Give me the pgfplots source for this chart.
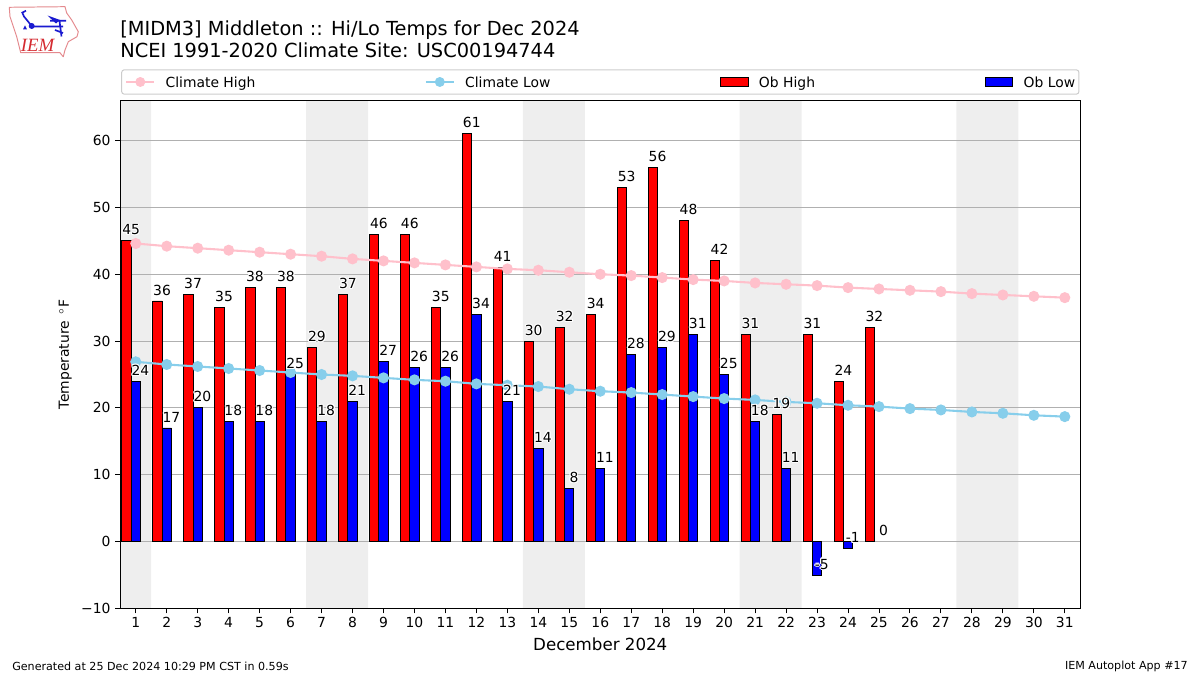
\documentclass[border=0pt]{standalone}
\usepackage{pgfplots}
\usepackage{pgfplotstable}
\usepackage{fontspec}
\setmainfont{DejaVu Sans}
\newfontfamily\logofont{Liberation Serif}
\pgfplotsset{compat=1.18}
\definecolor{climhi}{HTML}{FFC0CB}
\definecolor{climlo}{HTML}{87CEEB}
\definecolor{wknd}{HTML}{EEEEEE}
\definecolor{gridc}{HTML}{B0B0B0}
\definecolor{logor}{HTML}{D42A30}
\definecolor{logol}{HTML}{E48A8E}
\definecolor{logob}{HTML}{1A1AD0}
\newcommand\haloone[3]{\rlap{\kern#1\raisebox{#2}{#3}}}
\newcommand\halo[1]{\leavevmode\textcolor{white}{%
  \haloone{0.8pt}{0pt}{#1}\haloone{-0.8pt}{0pt}{#1}\haloone{0pt}{0.8pt}{#1}\haloone{0pt}{-0.8pt}{#1}%
  \haloone{0.6pt}{0.6pt}{#1}\haloone{-0.6pt}{0.6pt}{#1}\haloone{0.6pt}{-0.6pt}{#1}\haloone{-0.6pt}{-0.6pt}{#1}}#1}
\pgfplotstableread{
day high low
1 45 24
2 36 17
3 37 20
4 35 18
5 38 18
6 38 25
7 29 18
8 37 21
9 46 27
10 46 26
11 35 26
12 61 34
13 41 21
14 30 14
15 32 8
16 34 11
17 53 28
18 56 29
19 48 31
20 42 25
21 31 18
22 19 11
23 31 -5
24 24 -1
25 32 0
}\obs
\pgfplotstableread{
day chigh clow
1 44.6 26.9
2 44.2 26.5
3 43.9 26.2
4 43.6 25.9
5 43.3 25.6
6 43.0 25.3
7 42.7 25.0
8 42.3 24.8
9 42.0 24.5
10 41.7 24.2
11 41.4 24.0
12 41.1 23.6
13 40.8 23.4
14 40.6 23.2
15 40.3 22.8
16 40.0 22.5
17 39.8 22.3
18 39.5 22.0
19 39.2 21.7
20 39.0 21.4
21 38.7 21.2
22 38.5 20.9
23 38.3 20.7
24 38.0 20.4
25 37.8 20.2
26 37.6 19.9
27 37.4 19.7
28 37.1 19.4
29 36.9 19.2
30 36.7 18.9
31 36.5 18.7
}\clim
\pgfplotsset{
  lineimg/.style={legend image code/.code={
    \draw[#1,line width=1.5pt,sharp corners] (0,0) -- (20pt,0);
    \fill[#1,sharp corners] (10pt,0) circle (3.2pt);}},
  barimg/.style={legend image code/.code={
    \draw[fill=#1,draw=black,line width=0.7pt,sharp corners] (0,-3.2pt) rectangle (20pt,3.2pt);}},
  lbl/.style={draw=none,mark=none,forget plot,nodes near coords={\halo{\pgfplotspointmeta}},
    point meta=explicit symbolic,
    every node near coord/.append style={anchor=base,inner sep=0pt,yshift=4.3pt,
      font=\fontsize{10}{12}\selectfont,text=black}},
}
\begin{document}
\begin{tikzpicture}
\path (0,0) rectangle (864pt,486pt);
\begin{axis}[
  set layers,
  at={(86.6pt,47.9pt)},anchor=south west,
  scale only axis,width=691.2pt,height=365.76pt,
  xmin=0.5,xmax=31.5,ymin=-10,ymax=66,
  xtick={1,2,...,31},
  ytick={-10,0,10,20,30,40,50,60},
  yticklabels={−10,0,10,20,30,40,50,60},
  /pgf/number format/assume math mode=true,
  tick align=outside,tick pos=lower,
  major tick length=3.5pt,
  tick style={black,line width=0.72pt},
  axis line style={black,line width=0.72pt},
  ymajorgrids,
  grid style={gridc,line width=0.72pt},
  tick label style={font=\fontsize{10}{12}\selectfont},
  xticklabel style={yshift=0.4pt},
  xlabel={December 2024},
  ylabel={Temperature\, $^\circ$F},
  xlabel style={font=\fontsize{12}{14}\selectfont,at={(axis description cs:0.5,0)},anchor=base,yshift=-30.2pt},
  ylabel style={font=\fontsize{10}{12}\selectfont,at={(axis description cs:0,0.5)},anchor=base,yshift=37pt},
  title={[MIDM3] Middleton :: Hi/Lo Temps for Dec 2024\\NCEI 1991-2020 Climate Site: USC00194744},
  title style={font=\fontsize{13.95}{16}\selectfont,at={(axis description cs:0,1)},anchor=south west,
    align=left,inner sep=0pt,yshift=24.3pt,xshift=-0.2pt},
  legend columns=4,
  legend cell align=left,
  legend style={at={(axis description cs:0.5,1)},anchor=center,yshift=13.3pt,
    draw=black!20,rounded corners=2pt,line width=0.72pt,
    font=\fontsize{10}{12}\selectfont,
    inner xsep=2.7pt,inner ysep=3pt,
    nodes={inner xsep=0pt,inner ysep=2pt,text depth=0pt},
    /tikz/every odd column/.append style={column sep=7.5pt},
    /tikz/every even column/.append style={column sep=122pt}},
]
% weekend bands
\addplot[on layer=axis background,fill=wknd,draw=none,forget plot] coordinates {(0.5,-10)(1.5,-10)(1.5,66)(0.5,66)} \closedcycle;
\addplot[on layer=axis background,fill=wknd,draw=none,forget plot] coordinates {(6.5,-10)(8.5,-10)(8.5,66)(6.5,66)} \closedcycle;
\addplot[on layer=axis background,fill=wknd,draw=none,forget plot] coordinates {(13.5,-10)(15.5,-10)(15.5,66)(13.5,66)} \closedcycle;
\addplot[on layer=axis background,fill=wknd,draw=none,forget plot] coordinates {(20.5,-10)(22.5,-10)(22.5,66)(20.5,66)} \closedcycle;
\addplot[on layer=axis background,fill=wknd,draw=none,forget plot] coordinates {(27.5,-10)(29.5,-10)(29.5,66)(27.5,66)} \closedcycle;
\addlegendimage{lineimg=climhi}\addlegendentry{Climate High}
\addlegendimage{lineimg=climlo}\addlegendentry{Climate Low}
\addlegendimage{barimg=red}\addlegendentry{Ob High}
\addlegendimage{barimg=blue}\addlegendentry{Ob Low}
% bars
\addplot[ybar,bar width=0.3,bar shift=0pt,fill=red,draw=black,line width=0.7pt,forget plot]
  table[x expr=\thisrow{day}-0.3,y=high] {\obs};
\addplot[ybar,bar width=0.3,bar shift=0pt,fill=blue,draw=black,line width=0.7pt,forget plot,
  skip coords between index={24}{25}]
  table[x=day,y=low] {\obs};
% climate
\addplot[climhi,line width=1.5pt,mark=*,mark size=3.2pt,mark options={fill=climhi,draw=climhi},forget plot]
  table[x=day,y=chigh] {\clim};
\addplot[climlo,line width=1.5pt,mark=*,mark size=3.2pt,mark options={fill=climlo,draw=climlo},forget plot]
  table[x=day,y=clow] {\clim};
% labels
\addplot[lbl] table[x expr=\thisrow{day}-0.15,y=high,meta=high] {\obs};
\addplot[lbl] table[x expr=\thisrow{day}+0.15,y=low,meta=low] {\obs};
\end{axis}
\begin{scope}[x=0.72pt,y=-0.72pt,yshift=486pt]
% footers
\node[anchor=west,inner sep=0pt,font=\fontsize{8}{10}\selectfont] at (12,666) {Generated at 25 Dec 2024 10:29 PM CST in 0.59s};
\node[anchor=east,inner sep=0pt,font=\fontsize{8}{10}\selectfont] at (1188,666) {IEM Autoplot App \#17};
% logo
\draw[logol,line width=0.7pt,line join=round] (9.3,7.3) -- (65,6.7) -- (66.7,13) -- (71.7,20) -- (78.3,31.7) -- (77,36.7) -- (68.3,41.7) -- (65,50) -- (63.3,56.7) -- (61.7,55) -- (60,52.7) -- (20.7,52.7) -- (16.7,36.7) -- (10,16.7) -- cycle;
\draw[logob,line width=1.2pt] (31.7,26.5) -- (63,26.5) (50,20.7) -- (66,20.7) (31.7,26) -- (24,16.5) -- (22,12) (21.5,13) -- (26,10.7) (59.5,21) -- (61.5,36.5) (55,30) -- (63,33);
\fill[logob] (31.7,26) circle (3);
\fill[logob] (47.5,15.5) -- (60,20) -- (56,23.5) -- cycle;
\fill[logob] (25,25.5) -- (27,29.5) -- (23,29.5) -- cycle;
\node[text=logor,font=\logofont\itshape\fontsize{13.5}{14}\selectfont,inner sep=0pt] at (37.5,45) {IEM};
\end{scope}
\end{tikzpicture}
\end{document}
